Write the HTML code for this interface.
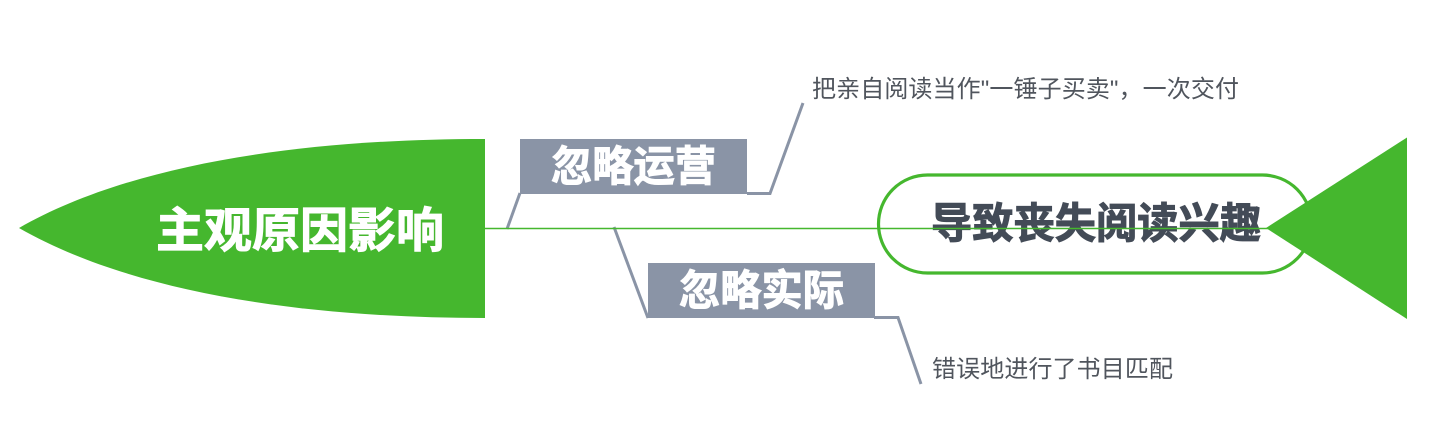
<!DOCTYPE html>
<html lang="zh">
<head>
<meta charset="utf-8">
<style>
html,body{margin:0;padding:0;background:#fff;width:1440px;height:440px;overflow:hidden}
svg{display:block}
text{font-family:"Liberation Sans","Noto Sans CJK SC",sans-serif}
.b{font-weight:700;stroke-width:1;paint-order:stroke fill}
</style>
</head>
<body>
<svg width="1440" height="440" viewBox="0 0 1440 440" xmlns="http://www.w3.org/2000/svg">
<rect width="1440" height="440" fill="#fff"/>
<!-- head pill -->
<rect x="878.5" y="175" width="433" height="98" rx="49" ry="49" fill="#fff" stroke="#45b72e" stroke-width="3.200"/>
<!-- left shape -->
<path d="M19 228 C120 170 280 139 485 139 L485 318 C280 318 120 286 19 228 Z" fill="#45b72e"/>
<!-- connectors -->
<path d="M507 229 L520 193" fill="none" stroke="#8a94a6" stroke-width="3"/>
<path d="M747 193.500 L770 193.500 L803 103" fill="none" stroke="#8a94a6" stroke-width="3"/>
<path d="M614 227 L648 318" fill="none" stroke="#8a94a6" stroke-width="3"/>
<path d="M874 317.500 L898 317.500 L921 384" fill="none" stroke="#8a94a6" stroke-width="3"/>
<!-- boxes -->
<rect x="520" y="139" width="227" height="55" fill="#8a94a6"/>
<rect x="648" y="263" width="227" height="55" fill="#8a94a6"/>
<!-- labels -->
<text class="b" x="156" y="247" font-size="48" fill="#fff" stroke="#fff" textLength="288" lengthAdjust="spacingAndGlyphs">主观原因影响</text>
<text class="b" x="551" y="181" font-size="42" fill="#fff" stroke="#fff" textLength="165" lengthAdjust="spacingAndGlyphs">忽略运营</text>
<text class="b" x="679" y="305" font-size="42" fill="#fff" stroke="#fff" textLength="165" lengthAdjust="spacingAndGlyphs">忽略实际</text>
<text class="b" x="931" y="238" font-size="42" fill="#434b57" stroke="#434b57" textLength="330" lengthAdjust="spacingAndGlyphs">导致丧失阅读兴趣</text>
<text x="812" y="97" font-size="24" fill="#50555d" textLength="427" lengthAdjust="spacing">把亲自阅读当作"一锤子买卖"，一次交付</text>
<text x="932" y="377" font-size="24" fill="#50555d" textLength="241" lengthAdjust="spacing">错误地进行了书目匹配</text>
<!-- spine -->
<path d="M485 228.500 L1270 228.500" fill="none" stroke="#45b72e" stroke-width="1.500"/>
<!-- tail -->
<polygon points="1266,228 1407,137.500 1407,319" fill="#45b72e"/>
</svg>
</body>
</html>
